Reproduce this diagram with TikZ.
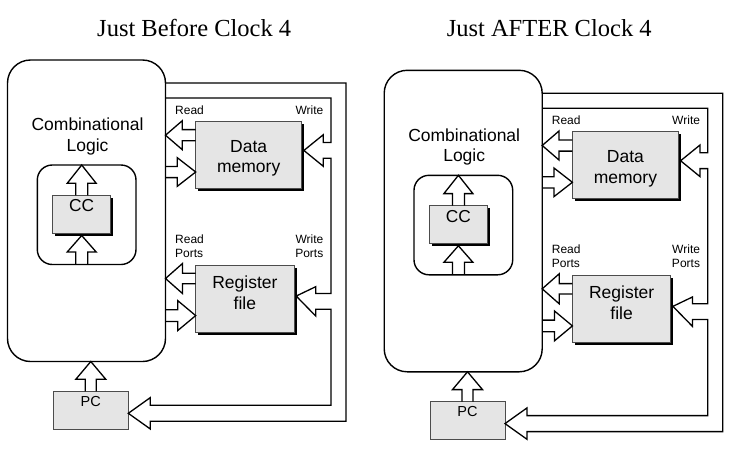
\documentclass[tikz,border=0pt]{standalone}
\usepackage{fontspec}
\setmainfont{Liberation Serif}
\setsansfont{Liberation Sans}
\usetikzlibrary{shadows,calc}

\tikzset{
  fatline/.style={draw=black, line width=1.3pt, line join=miter},
  grbox/.style={draw=black!70, fill=black!10, line width=0.9pt, inner sep=0pt, outer sep=0pt, anchor=north west},
  shbox/.style={grbox, drop shadow={shadow xshift=2.5pt, shadow yshift=-2.5pt, fill=black, opacity=1}},
  roundbox/.style={draw=black, fill=white, line width=1.4pt, anchor=north west, inner sep=0pt, outer sep=0pt},
  bigtxt/.style={font=\sffamily\fontsize{17.5}{20.7}\selectfont, align=center, inner sep=0pt},
  smalltxt/.style={font=\sffamily\fontsize{12}{14}\selectfont, inner sep=0pt},
  titletxt/.style={font=\fontsize{24.5}{28}\selectfont, inner sep=0pt, anchor=base},
}

% open fat arrows: #1 tip, #2 length, #3 head length, #4 head half-width, #5 shaft half-width
\newcommand\arrowleft[5]{\draw[fatline] (#1) ++(#2,-#5) -- ++({#3-#2},0) -- ++(0,{#5-#4}) -- (#1) -- ++(#3,#4) -- ++(0,{#5-#4}) -- ++({#2-#3},0);}
\newcommand\arrowright[5]{\draw[fatline] (#1) ++(-#2,-#5) -- ++({#2-#3},0) -- ++(0,{#5-#4}) -- (#1) -- ++(-#3,#4) -- ++(0,{#5-#4}) -- ++({#3-#2},0);}
\newcommand\arrowup[5]{\draw[fatline] (#1) ++(-#5,#2) -- ++(0,{#3-#2}) -- ++({#5-#4},0) -- (#1) -- ++(#4,#3) -- ++({#5-#4},0) -- ++(0,{#2-#3});}

\newcommand\cpupanel{%
  \node[roundbox, rounded corners=23pt, minimum width=158pt, minimum height=301.5pt] (cl) at (7.5,60) {};
  \node[bigtxt] (cltext) at (87.5,136.8) {Combinational\\Logic};
  \node[roundbox, rounded corners=15pt, minimum width=98.7pt, minimum height=99.5pt] (ccr) at (37.3,165) {};
  \node[shbox, minimum width=58pt, inner ysep=4pt, text height=12.4pt, text depth=17.6pt,
        font=\sffamily\fontsize{17.3}{20}\selectfont] (cc) at (52.7,195.3) {CC};
  \node[shbox, minimum width=106pt, minimum height=67.3pt] (dm) at (195.7,121) {};
  \node[bigtxt] (dmtext) at (248.7,158.3) {Data\\memory};
  \node[shbox, minimum width=98.3pt, minimum height=67.3pt] (rf) at (195.7,265) {};
  \node[bigtxt] (rftext) at (244.9,292.5) {Register\\file};
  \node[grbox, minimum width=75pt, inner ysep=4.6pt, text height=10.4pt, text depth=18.1pt,
        font=\sffamily\fontsize{14.5}{17}\selectfont] (pc) at (53.3,391.3) {PC};
  % labels
  \node[smalltxt, anchor=north west] (rdl) at (175,105.3) {Read};
  \node[smalltxt, anchor=north east] (wrl) at (323.5,105.4) {Write};
  \node[smalltxt, anchor=north west, align=left] (rpl) at (175,234.6) {Read\\Ports};
  \node[smalltxt, anchor=north east, align=right] (wpl) at (323.5,234.6) {Write\\Ports};
  % arrows between combinational logic and the state elements
  \arrowleft{cl.east |- 0,135.2}{30.2}{16.8}{14.5}{5.6}
  \arrowright{dm.west |- 0,172}{30.2}{18.4}{14.3}{5.6}
  \arrowleft{cl.east |- 0,278.5}{30.2}{17}{15}{5.2}
  \arrowright{rf.west |- 0,315.6}{30.2}{18}{15}{5.8}
  \arrowup{cc.north |- ccr.north}{30.3}{18.3}{14.5}{6}
  \arrowup{cc.south |- 0,235.5}{29}{16.5}{14.5}{6}
  \arrowup{pc.north |- cl.south}{29.8}{17.8}{15}{5.5}
  % write-back bus
  \draw[fatline] (cl.east |- 0,98) -- (331,98) -- (331,142.5) -- (323.3,142.5) -- (323.3,134.7)
    -- ($(dm.east)+(2.2,-4.2)$) -- (323.3,166.3) -- (323.3,158.3) -- (331,158.3)
    -- (331,293.5) -- (315.7,293.5) -- (315.7,286.7) -- ($(rf.east)+(2.2,-2.6)$)
    -- (315.7,316) -- (315.7,309.2) -- (331,309.2) -- (331,405.3) -- (150.3,405.3)
    -- (150.3,397.6) -- (pc.east |- 0,413.3) -- (150.3,429) -- (150.3,421.3)
    -- (346,421.3) -- (346,83) -- (cl.east |- 0,83);
}

\begin{document}
\begin{tikzpicture}[x=1pt,y=-1pt]
  \fill[white] (0,0) rectangle (731,469);
  \useasboundingbox (0,0) rectangle (731,469);
  \node[titletxt] (t1) at (194.2,36.7) {Just Before Clock 4};
  \node[titletxt] (t2) at (549.2,36.7) {Just AFTER Clock 4};
  \begin{scope}[name prefix=L-]
    \cpupanel
  \end{scope}
  \begin{scope}[shift={(376.7,10.3)}, name prefix=R-]
    \cpupanel
  \end{scope}
\end{tikzpicture}
\end{document}
